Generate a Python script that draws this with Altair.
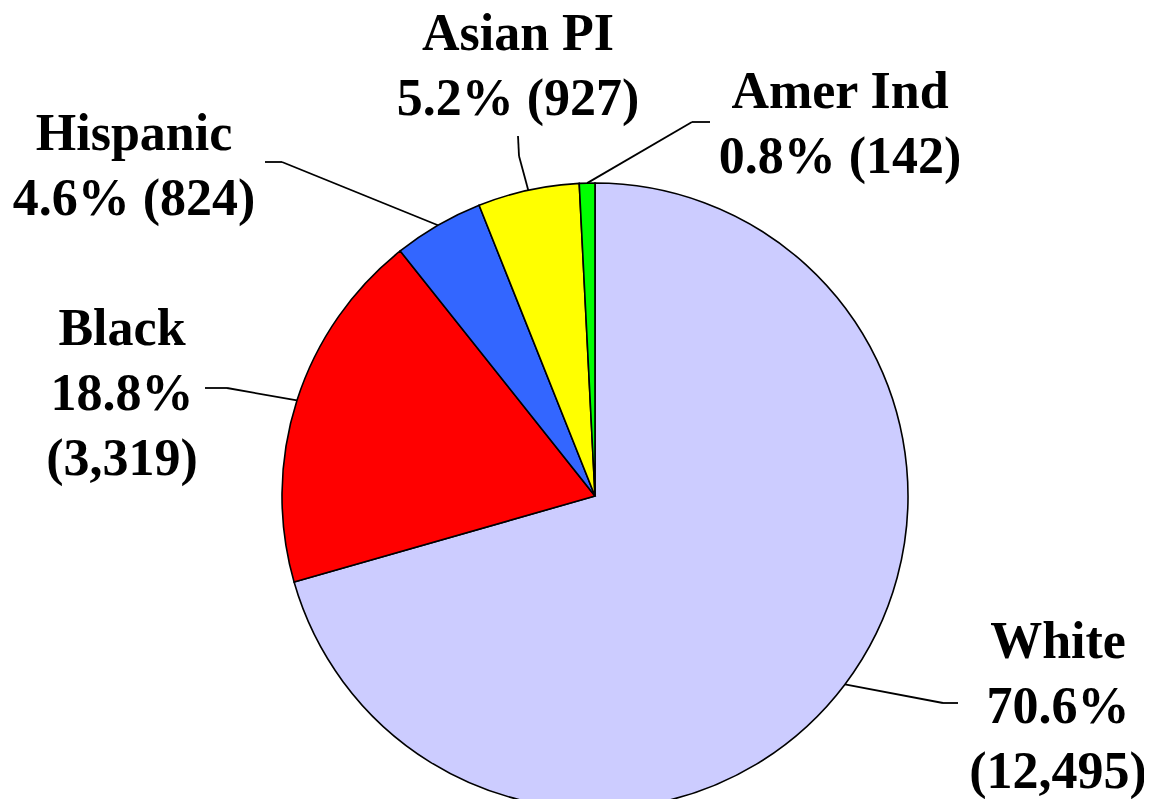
import math
import altair as alt
import pandas as pd

# ---- data ----
groups = ["White", "Black", "Hispanic", "Asian PI", "Amer Ind"]
counts = [12495, 3319, 824, 927, 142]
percents = ["70.6%", "18.8%", "4.6%", "5.2%", "0.8%"]
colors = ["#CCCCFF", "#FF0000", "#3366FF", "#FFFF00", "#00FF00"]

# ---- layout (pixel positions in plot area) ----
CX, CY, R = 587, 488, 313
label_xy = {
    "White": (1050, 650),
    "Black": (114, 337),
    "Hispanic": (126, 142),
    "Asian PI": (510, 42),
    "Amer Ind": (832, 100),
}
label_text = {
    "White": "White\n70.6%\n(12,495)",
    "Black": "Black\n18.8%\n(3,319)",
    "Hispanic": "Hispanic\n4.6% (824)",
    "Asian PI": "Asian PI\n5.2% (927)",
    "Amer Ind": "Amer Ind\n0.8% (142)",
}
elbow = {
    "White": (935, 695),
    "Black": (219, 380),
    "Hispanic": (274, 154),
    "Asian PI": (511, 148),
    "Amer Ind": (684, 114),
}
stub_end_x = {
    "White": 950,
    "Black": 197,
    "Hispanic": 257,
    "Asian PI": 510,
    "Amer Ind": 702,
}
stub_end_y = {"Asian PI": 128}

total = sum(counts)
df = pd.DataFrame({"group": groups, "count": counts, "idx": list(range(len(groups)))})

# leader lines derived from slice mid-angles
rows = []
cum = 0
for g, c in zip(groups, counts):
    mid = (cum + c / 2) / total * 2 * math.pi
    cum += c
    ex = CX + R * math.sin(mid)
    ey = CY - R * math.cos(mid)
    bx, by = elbow[g]
    rows.append({"x": ex, "y": ey, "x2": bx, "y2": by})
    rows.append({"x": bx, "y": by, "x2": stub_end_x[g], "y2": stub_end_y.get(g, by)})
lines = pd.DataFrame(rows)

labels = pd.DataFrame({
    "group": groups,
    "text": [label_text[g] for g in groups],
    "x": [label_xy[g][0] for g in groups],
    "y": [label_xy[g][1] for g in groups],
})

pie = alt.Chart(df).mark_arc(
    outerRadius=R, stroke="black", strokeWidth=1.6
).encode(
    theta=alt.Theta("count:Q", stack=True),
    order=alt.Order("idx:Q"),
    color=alt.Color("group:N", scale=alt.Scale(domain=groups, range=colors), legend=None),
    x=alt.value(CX),
    y=alt.value(CY),
)

rules = alt.Chart(lines).mark_rule(color="black", strokeWidth=1.8).encode(
    x=alt.X("x:Q", scale=None),
    y=alt.Y("y:Q", scale=None),
    x2="x2:Q",
    y2="y2:Q",
)

text = alt.Chart(labels).mark_text(
    font="Liberation Serif", fontWeight="bold", fontSize=52, lineHeight=65,
    align="center", baseline="alphabetic", lineBreak="\n", color="black",
).encode(
    x=alt.X("x:Q", scale=None),
    y=alt.Y("y:Q", scale=None),
    text="text:N",
)

chart = alt.layer(pie, rules, text).properties(
    width=1136, height=791, padding=0, autosize=alt.AutoSizeParams(type="none")
).configure_view(stroke=None)

chart.save("out.html", embed_options={"renderer": "svg", "actions": False})
